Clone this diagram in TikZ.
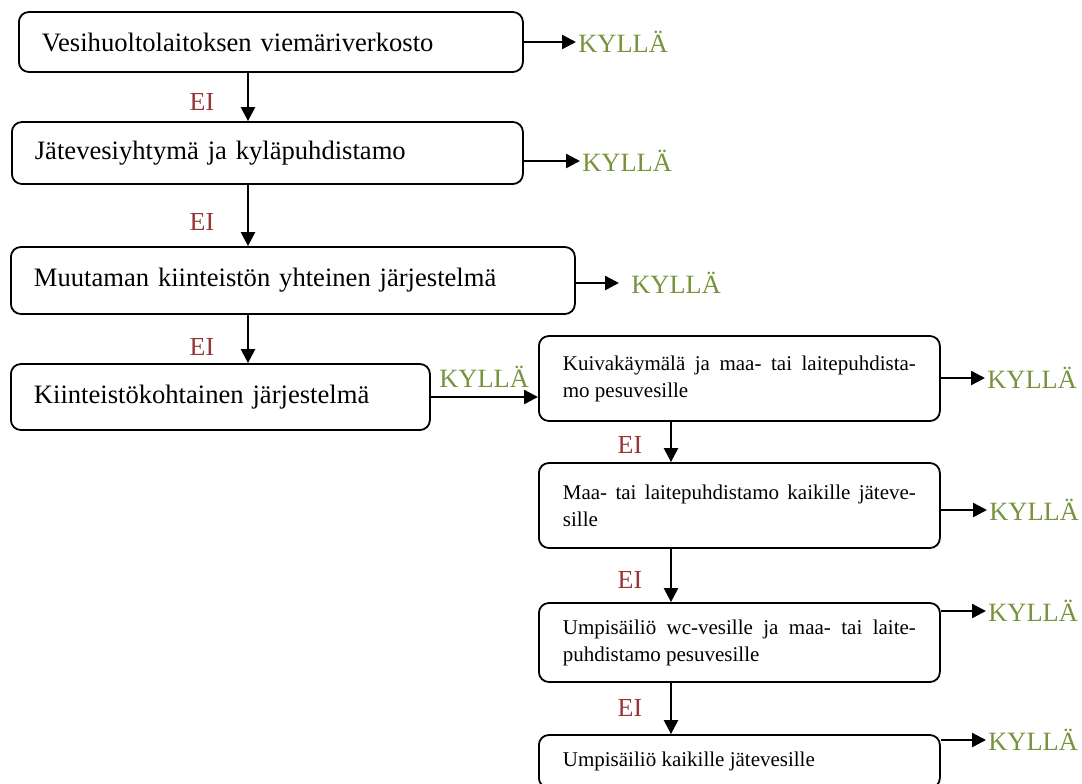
\documentclass[tikz,border=0pt]{standalone}
\usepackage{fontspec}
\setmainfont{Liberation Serif}
\usetikzlibrary{arrows.meta}
\definecolor{kyllagreen}{RGB}{119,147,60}
\definecolor{eired}{RGB}{149,55,53}

\begin{document}
\begin{tikzpicture}[
    x=0.5pt, y=-0.5pt,
    big node/.style={draw=black, rounded corners=5pt, line width=0.9pt, anchor=west, align=left, inner xsep=11.5pt, inner ysep=0pt, font=\fontsize{13.3}{16}\selectfont},
    small node/.style={draw=black, rounded corners=5pt, line width=0.9pt, anchor=west, align=justify, text width=176.5pt, inner xsep=12pt, inner ysep=0pt, minimum height=42.5pt, font=\fontsize{10.5}{13.5}\selectfont},
    yes node/.style={anchor=west, inner sep=1pt, text=kyllagreen, font=\fontsize{13.2}{15}\selectfont},
    no node/.style={inner sep=0pt, text=eired, font=\fontsize{13}{15}\selectfont},
    main edge/.style={line width=1.2pt, -{Triangle[length=7pt, width=7pt]}}
]
\clip (0,0) rectangle (1082,783);

% vasen sarake
\node[big node, text width=229pt, minimum height=30pt]     (A) at (18, 42)    {Vesihuoltolaitoksen viemäriverkosto};
\node[big node, text width=232.5pt, minimum height=31pt]   (B) at (11, 153)   {Jätevesiyhtymä ja kyläpuhdistamo};
\node[big node, text width=259pt, minimum height=33.5pt]   (C) at (10, 280.5) {Muutaman kiinteistön yhteinen järjestelmä};
\node[big node, text width=186.5pt, minimum height=33pt]   (D) at (10, 397)   {Kiinteistökohtainen järjestelmä};

% oikea sarake
\node[small node]                        (E) at (538, 378.5) {Kuivakäymälä ja maa- tai laitepuhdista-\linebreak mo pesuvesille};
\node[small node]                        (F) at (538, 505.5) {Maa- tai laitepuhdistamo kaikille jäteve-\linebreak sille};
\node[small node, minimum height=39.5pt] (G) at (538, 642.5) {Umpisäiliö wc-vesille ja maa- tai laite-\linebreak puhdistamo pesuvesille};
\node[small node, minimum height=26.5pt] (H) at (538, 761.5) {Umpisäiliö kaikille jätevesille};

% pystynuolten linjat
\coordinate (L) at (248, 0);
\coordinate (R) at (671, 0);

% KYLLÄ
\node[yes node] (yA) at (576, 42)  {KYLLÄ};
\node[yes node] (yB) at (580, 161) {KYLLÄ};
\node[yes node] (yC) at (629, 283) {KYLLÄ};
\node[yes node] (yD) at (437, 377) {KYLLÄ};
\node[yes node] (yE) at (985, 378) {KYLLÄ};
\node[yes node] (yF) at (987, 510) {KYLLÄ};
\node[yes node] (yG) at (986, 611) {KYLLÄ};
\node[yes node] (yH) at (986, 740) {KYLLÄ};

% EI
\node[no node] (nA) at (202, 102) {EI};
\node[no node] (nB) at (202, 222) {EI};
\node[no node] (nC) at (202, 347) {EI};
\node[no node] (nE) at (630, 445) {EI};
\node[no node] (nF) at (630, 580) {EI};
\node[no node] (nG) at (630, 708) {EI};

% nuolet alas
\draw[main edge] (L |- A.south) -- (L |- B.north);
\draw[main edge] (L |- B.south) -- (L |- C.north);
\draw[main edge] (L |- C.south) -- (L |- D.north);
\draw[main edge] (R |- E.south) -- (R |- F.north);
\draw[main edge] (R |- F.south) -- (R |- G.north);
\draw[main edge] (R |- G.south) -- (R |- H.north);

% nuolet oikealle
\draw[main edge] (A.east) -- (yA.west);
\draw[main edge] (yB.west -| B.east) -- (yB.west);
\draw[main edge, shorten >=5pt] (yC.west -| C.east) -- (yC.west);
\draw[main edge] (D.east) -- (D.east -| E.west);
\draw[main edge] (yE.west -| E.east) -- (yE.west);
\draw[main edge] (yF.west -| F.east) -- (yF.west);
\draw[main edge] (yG.west -| G.east) -- (yG.west);
\draw[main edge] (yH.west -| H.east) -- (yH.west);

\end{tikzpicture}
\end{document}
